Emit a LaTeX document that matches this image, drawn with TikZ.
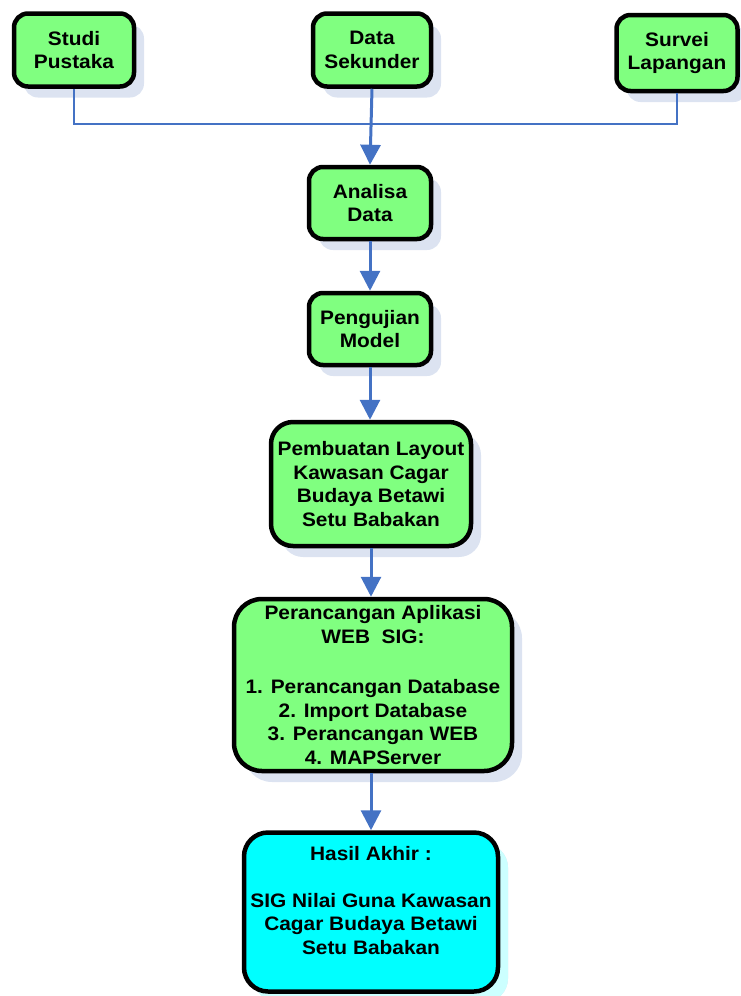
\documentclass[tikz,border=0pt]{standalone}
\usepackage{fontspec}
\setmainfont{Liberation Sans}[FakeStretch=1.07]
\usetikzlibrary{arrows.meta,shadows}
\definecolor{boxgreen}{HTML}{80FF80}
\definecolor{boxcyan}{HTML}{00FFFF}
\definecolor{shadowblue}{HTML}{DCE3F1}
\definecolor{shadowcyan}{HTML}{CCFFFF}
\definecolor{linkblue}{HTML}{4472C4}
\tikzset{
  box/.style={draw=black, line width=4.5pt, rounded corners=14pt, fill=boxgreen,
    align=center, inner sep=0pt, font=\bfseries\fontsize{19.5}{23.5}\selectfont,
    drop shadow={shadow xshift=10pt, shadow yshift=-11pt, fill=shadowblue, opacity=1}},
  endbox/.style={box, fill=boxcyan, rounded corners=24pt,
    drop shadow={shadow xshift=10pt, shadow yshift=-11pt, fill=shadowcyan, opacity=1}},
  link/.style={draw=linkblue, line width=2.5pt},
  flow/.style={link, line width=3pt, -{Triangle[width=20pt,length=20pt]}}
}
\begin{document}
\begin{tikzpicture}[x=1pt,y=-1pt]
        \useasboundingbox (0,0) rectangle (741,996);

        % sources
        \node[box, minimum width=120pt, minimum height=73pt] (studi) at (74,50) {Studi\\Pustaka};
        \node[box, minimum width=118pt, minimum height=73pt] (sekunder) at (372,50) {Data\\Sekunder};
        \node[box, minimum width=121pt, minimum height=76pt] (survei) at (677,53) {Survei\\Lapangan};

        % steps
        \node[box, minimum width=122pt, minimum height=72pt] (analisa) at (370,203) {Analisa\\Data};
        \node[box, minimum width=122pt, minimum height=72pt] (pengujian) at (370,329) {Pengujian\\Model};
        \node[box, rounded corners=22pt, minimum width=200pt, minimum height=124pt] (layout) at (371,484)
            {Pembuatan Layout\\Kawasan Cagar\\Budaya Betawi\\Setu Babakan};
        \node[box, rounded corners=28pt, minimum width=278pt, minimum height=172pt] (aplikasi) at (373,685)
            {Perancangan Aplikasi\\WEB\ \ SIG:\\[27pt]1. Perancangan Database\\2. Import Database\\3. Perancangan WEB\\4. MAPServer};
        \node[endbox, minimum width=254pt, minimum height=159pt] (hasil) at (371,912)
            {Hasil Akhir :\\[23pt]SIG Nilai Guna Kawasan\\Cagar Budaya Betawi\\Setu Babakan\\[0pt]\mbox{}};

        % connectors
        \coordinate (bus) at (372,124);
        \draw[link] (studi.south) |- (bus) -| (survei.south);
        \draw[flow] (sekunder.south) -- (analisa.north);
        \draw[flow] (analisa.south) -- (pengujian.north);
        \draw[flow] (pengujian.south) -- (layout.north -| pengujian.south);
        \draw[flow] (layout.south) -- (aplikasi.north -| layout.south);
        \draw[flow] (aplikasi.south -| layout.south) -- (hasil.north -| layout.south);
    \end{tikzpicture}
\end{document}
